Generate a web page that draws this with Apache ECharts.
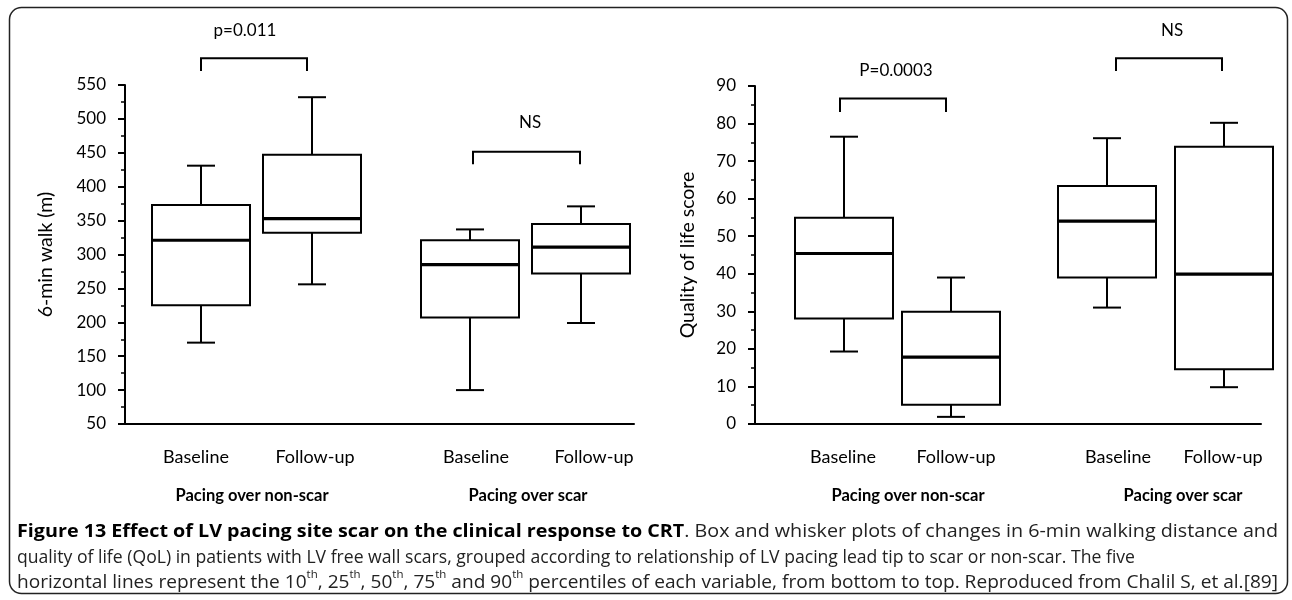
<!DOCTYPE html>
<html>
<head>
<meta charset="utf-8">
<script src="https://cdn.jsdelivr.net/npm/echarts@6/dist/echarts.min.js"></script>
<style>
html,body{margin:0;padding:0;background:#fff;}
#main{width:1292px;height:600px;}
</style>
</head>
<body>
<div id="main"></div>
<script>
// ---------- DATA ----------
const categories = ['Baseline', 'Follow-up', 'Baseline', 'Follow-up'];
const groups = ['Pacing over non-scar', 'Pacing over scar'];

// 6-min walk (m): 10th, 25th, 50th, 75th, 90th percentiles
const walkP10 = [170, 256, 100, 199];
const walkP25 = [225, 332, 207, 272];
const walkP50 = [321, 353, 285, 311];
const walkP75 = [373, 447, 321, 345];
const walkP90 = [431, 532, 337, 371];

// Quality of life score
const qolP10 = [19.3, 1.9, 31, 9.8];
const qolP25 = [28.1, 5.1, 39, 14.6];
const qolP50 = [45.4, 17.8, 54, 39.9];
const qolP75 = [54.9, 29.9, 63.4, 73.8];
const qolP90 = [76.5, 39, 76.1, 80.2];

const walkTicks = {min: 50, max: 550, interval: 50};
const qolTicks = {min: 0, max: 90, interval: 10};

const walkTests = ['p=0.011', 'NS'];
const qolTests = ['P=0.0003', 'NS'];

// caption: [text, style] segments per line
const captionLines = [
  [['Figure 13 Effect of LV pacing site scar on the clinical response to CRT', 'b'],
   ['. Box and whisker plots of changes in 6-min walking distance and', 'n']],
  [['quality of life (QoL) in patients with LV free wall scars, grouped according to relationship of LV pacing lead tip to scar or non-scar. The five', 'n']],
  [['horizontal lines represent the 10', 'n'], ['th', 's'], [', 25', 'n'], ['th', 's'], [', 50', 'n'], ['th', 's'],
   [', 75', 'n'], ['th', 's'], [' and 90', 'n'], ['th', 's'],
   [' percentiles of each variable, from bottom to top. Reproduced from Chalil S, et al.[89]', 'n']]
];

// ---------- LAYOUT (axis units, not data) ----------
const L = {
  grid: {left: 125, top: 85, width: 509, height: 339},
  boxX: [76, 187, 345, 456],
  labelX: [71, 190, 351, 469],
  groupX: [127, 403],
  brackets: [
    {x1: 76, x2: 182, y: 589.5, yLeg: 570.5, tx: 120, ty: 630},
    {x1: 348, x2: 455, y: 451.5, yLeg: 433, tx: 405, ty: 494}
  ]
};
const R = {
  grid: {left: 755, top: 86, width: 506, height: 338},
  boxX: [89, 196, 352, 469],
  labelX: [88, 201, 363, 468],
  groupX: [153, 428],
  brackets: [
    {x1: 85, x2: 191, y: 86.7, yLeg: 83.1, tx: 141, ty: 94.2},
    {x1: 361, x2: 467, y: 97.4, yLeg: 94.0, tx: 417, ty: 104.7}
  ]
};
const BOX_W = 98, CAP_W = 28;
const FONT = 'Lato, "Open Sans", sans-serif';
const CAP_FONT = '"Open Sans", sans-serif';
const capStyles = {
  b: {fontWeight: 'bold', fontSize: 17.5},
  n: {fontWeight: 'normal', fontSize: 17.5},
  s: {fontWeight: 'normal', fontSize: 10.5}
};
const captionX = 17, captionTops = [519, 545, 570], captionWidths = [1261, 1118, 1261];

function boxRender(params, api) {
  const x = api.value(0);
  const lo = api.coord([x, api.value(1)]);
  const q1 = api.coord([x, api.value(2)]);
  const md = api.coord([x, api.value(3)]);
  const q3 = api.coord([x, api.value(4)]);
  const hi = api.coord([x, api.value(5)]);
  const cx = Math.round(lo[0]);
  const pxPerUnit = Math.abs(api.size([1, 0])[0]);
  const hw = BOX_W * pxPerUnit / 2, cw = CAP_W * pxPerUnit / 2;
  const st = {stroke: '#000', lineWidth: 2, fill: null};
  return {
    type: 'group',
    children: [
      {type: 'line', shape: {x1: cx, y1: hi[1], x2: cx, y2: q3[1]}, style: st},
      {type: 'line', shape: {x1: cx, y1: q1[1], x2: cx, y2: lo[1]}, style: st},
      {type: 'line', shape: {x1: cx - cw, y1: hi[1], x2: cx + cw, y2: hi[1]}, style: st},
      {type: 'line', shape: {x1: cx - cw, y1: lo[1], x2: cx + cw, y2: lo[1]}, style: st},
      {type: 'rect', shape: {x: cx - hw, y: q3[1], width: 2 * hw, height: q1[1] - q3[1]},
       style: {stroke: '#000', lineWidth: 2, fill: '#fff'}},
      {type: 'line', shape: {x1: cx - hw, y1: md[1], x2: cx + hw, y2: md[1]},
       style: {stroke: '#000', lineWidth: 3.2}}
    ]
  };
}

function bracketRender(labels) {
  return function (params, api) {
    const a = api.coord([api.value(0), api.value(2)]);
    const b = api.coord([api.value(1), api.value(2)]);
    const al = api.coord([api.value(0), api.value(3)]);
    const bl = api.coord([api.value(1), api.value(3)]);
    const t = api.coord([api.value(4), api.value(5)]);
    return {
      type: 'group',
      children: [
        {type: 'polyline', shape: {points: [[al[0], al[1]], [a[0], a[1]], [b[0], b[1]], [bl[0], bl[1]]]},
         style: {stroke: '#000', lineWidth: 2, fill: null}},
        {type: 'text', x: t[0], y: t[1],
         style: {text: labels[params.dataIndex], fontFamily: FONT, fontSize: 17, fill: '#000',
                 align: 'center', verticalAlign: 'middle'}}
      ]
    };
  };
}

function makeBoxData(pos, p10, p25, p50, p75, p90) {
  return pos.map((x, i) => [x, p10[i], p25[i], p50[i], p75[i], p90[i]]);
}

function xAxes(lay, gridIndex) {
  const base = {
    type: 'value', gridIndex: gridIndex, min: 0, max: lay.grid.width,
    splitLine: {show: false}, axisTick: {show: false}
  };
  return [
    Object.assign({}, base, {
      axisLine: {show: true, lineStyle: {color: '#000', width: 2}},
      axisLabel: {
        customValues: lay.labelX,
        formatter: v => categories[lay.labelX.indexOf(v)] || '',
        fontFamily: FONT, fontSize: 18, color: '#000', margin: 24
      }
    }),
    Object.assign({}, base, {
      position: 'bottom',
      axisLine: {show: false},
      axisLabel: {
        customValues: lay.groupX,
        formatter: v => groups[lay.groupX.indexOf(v)] || '',
        fontFamily: FONT, fontSize: 16.5, fontWeight: 'bold', color: '#000', margin: 63
      }
    })
  ];
}

function yAxis(ticks, gridIndex, name, nameGap) {
  return {
    type: 'value', gridIndex: gridIndex, min: ticks.min, max: ticks.max, interval: ticks.interval,
    name: name, nameLocation: 'middle', nameGap: nameGap,
    nameTextStyle: {fontFamily: FONT, fontSize: 19.5, color: '#000'},
    axisLine: {show: true, lineStyle: {color: '#000', width: 2}},
    axisTick: {show: true, inside: false, length: 7, lineStyle: {color: '#000', width: 2}},
    minorTick: {show: true, splitNumber: 2, length: 4, lineStyle: {color: '#000', width: 1.5}},
    splitLine: {show: false},
    axisLabel: {fontFamily: FONT, fontSize: 17, color: '#000', margin: 19}
  };
}

// caption: measure each line and stretch it to the reference line length
const mctx = document.createElement('canvas').getContext('2d');
function segWidth(text, key) {
  const s = capStyles[key];
  mctx.font = (s.fontWeight === 'bold' ? 'bold ' : '') + s.fontSize + 'px ' + CAP_FONT;
  return mctx.measureText(text).width;
}
const capRich = {};
Object.keys(capStyles).forEach(k => {
  capRich[k] = {fontFamily: CAP_FONT, fontWeight: capStyles[k].fontWeight, fontSize: capStyles[k].fontSize,
                fill: k === 'b' ? '#000' : '#222', lineHeight: 22,
                verticalAlign: k === 's' ? 'top' : 'bottom'};
});
const captionGraphics = captionLines.map((segs, i) => {
  const w = segs.reduce((acc, sg) => acc + segWidth(sg[0], sg[1]), 0);
  return {
    type: 'text', silent: true, x: captionX, y: captionTops[i], scaleX: captionWidths[i] / w, originX: 0,
    style: {text: segs.map(sg => '{' + sg[1] + '|' + sg[0] + '}').join(''), rich: capRich}
  };
});

const chart = echarts.init(document.getElementById('main'), null, {renderer: 'canvas'});

chart.setOption({
  animation: false,
  backgroundColor: '#fff',
  grid: [
    Object.assign({}, L.grid, {containLabel: false}),
    Object.assign({}, R.grid, {containLabel: false})
  ],
  xAxis: xAxes(L, 0).concat(xAxes(R, 1)),
  yAxis: [
    yAxis(walkTicks, 0, '6-min walk (m)', 69),
    yAxis(qolTicks, 1, 'Quality of life score', 57)
  ],
  series: [
    {type: 'custom', xAxisIndex: 0, yAxisIndex: 0, clip: false, renderItem: boxRender,
     data: makeBoxData(L.boxX, walkP10, walkP25, walkP50, walkP75, walkP90)},
    {type: 'custom', xAxisIndex: 2, yAxisIndex: 1, clip: false, renderItem: boxRender,
     data: makeBoxData(R.boxX, qolP10, qolP25, qolP50, qolP75, qolP90)},
    {type: 'custom', xAxisIndex: 0, yAxisIndex: 0, clip: false, renderItem: bracketRender(walkTests),
     data: L.brackets.map(b => [b.x1, b.x2, b.y, b.yLeg, b.tx, b.ty])},
    {type: 'custom', xAxisIndex: 2, yAxisIndex: 1, clip: false, renderItem: bracketRender(qolTests),
     data: R.brackets.map(b => [b.x1, b.x2, b.y, b.yLeg, b.tx, b.ty])}
  ],
  graphic: [
    {type: 'rect', silent: true, z: -1,
     shape: {x: 9.5, y: 7.5, width: 1278, height: 586, r: 12},
     style: {fill: null, stroke: '#222', lineWidth: 1.5}}
  ].concat(captionGraphics)
});
</script>
</body>
</html>
